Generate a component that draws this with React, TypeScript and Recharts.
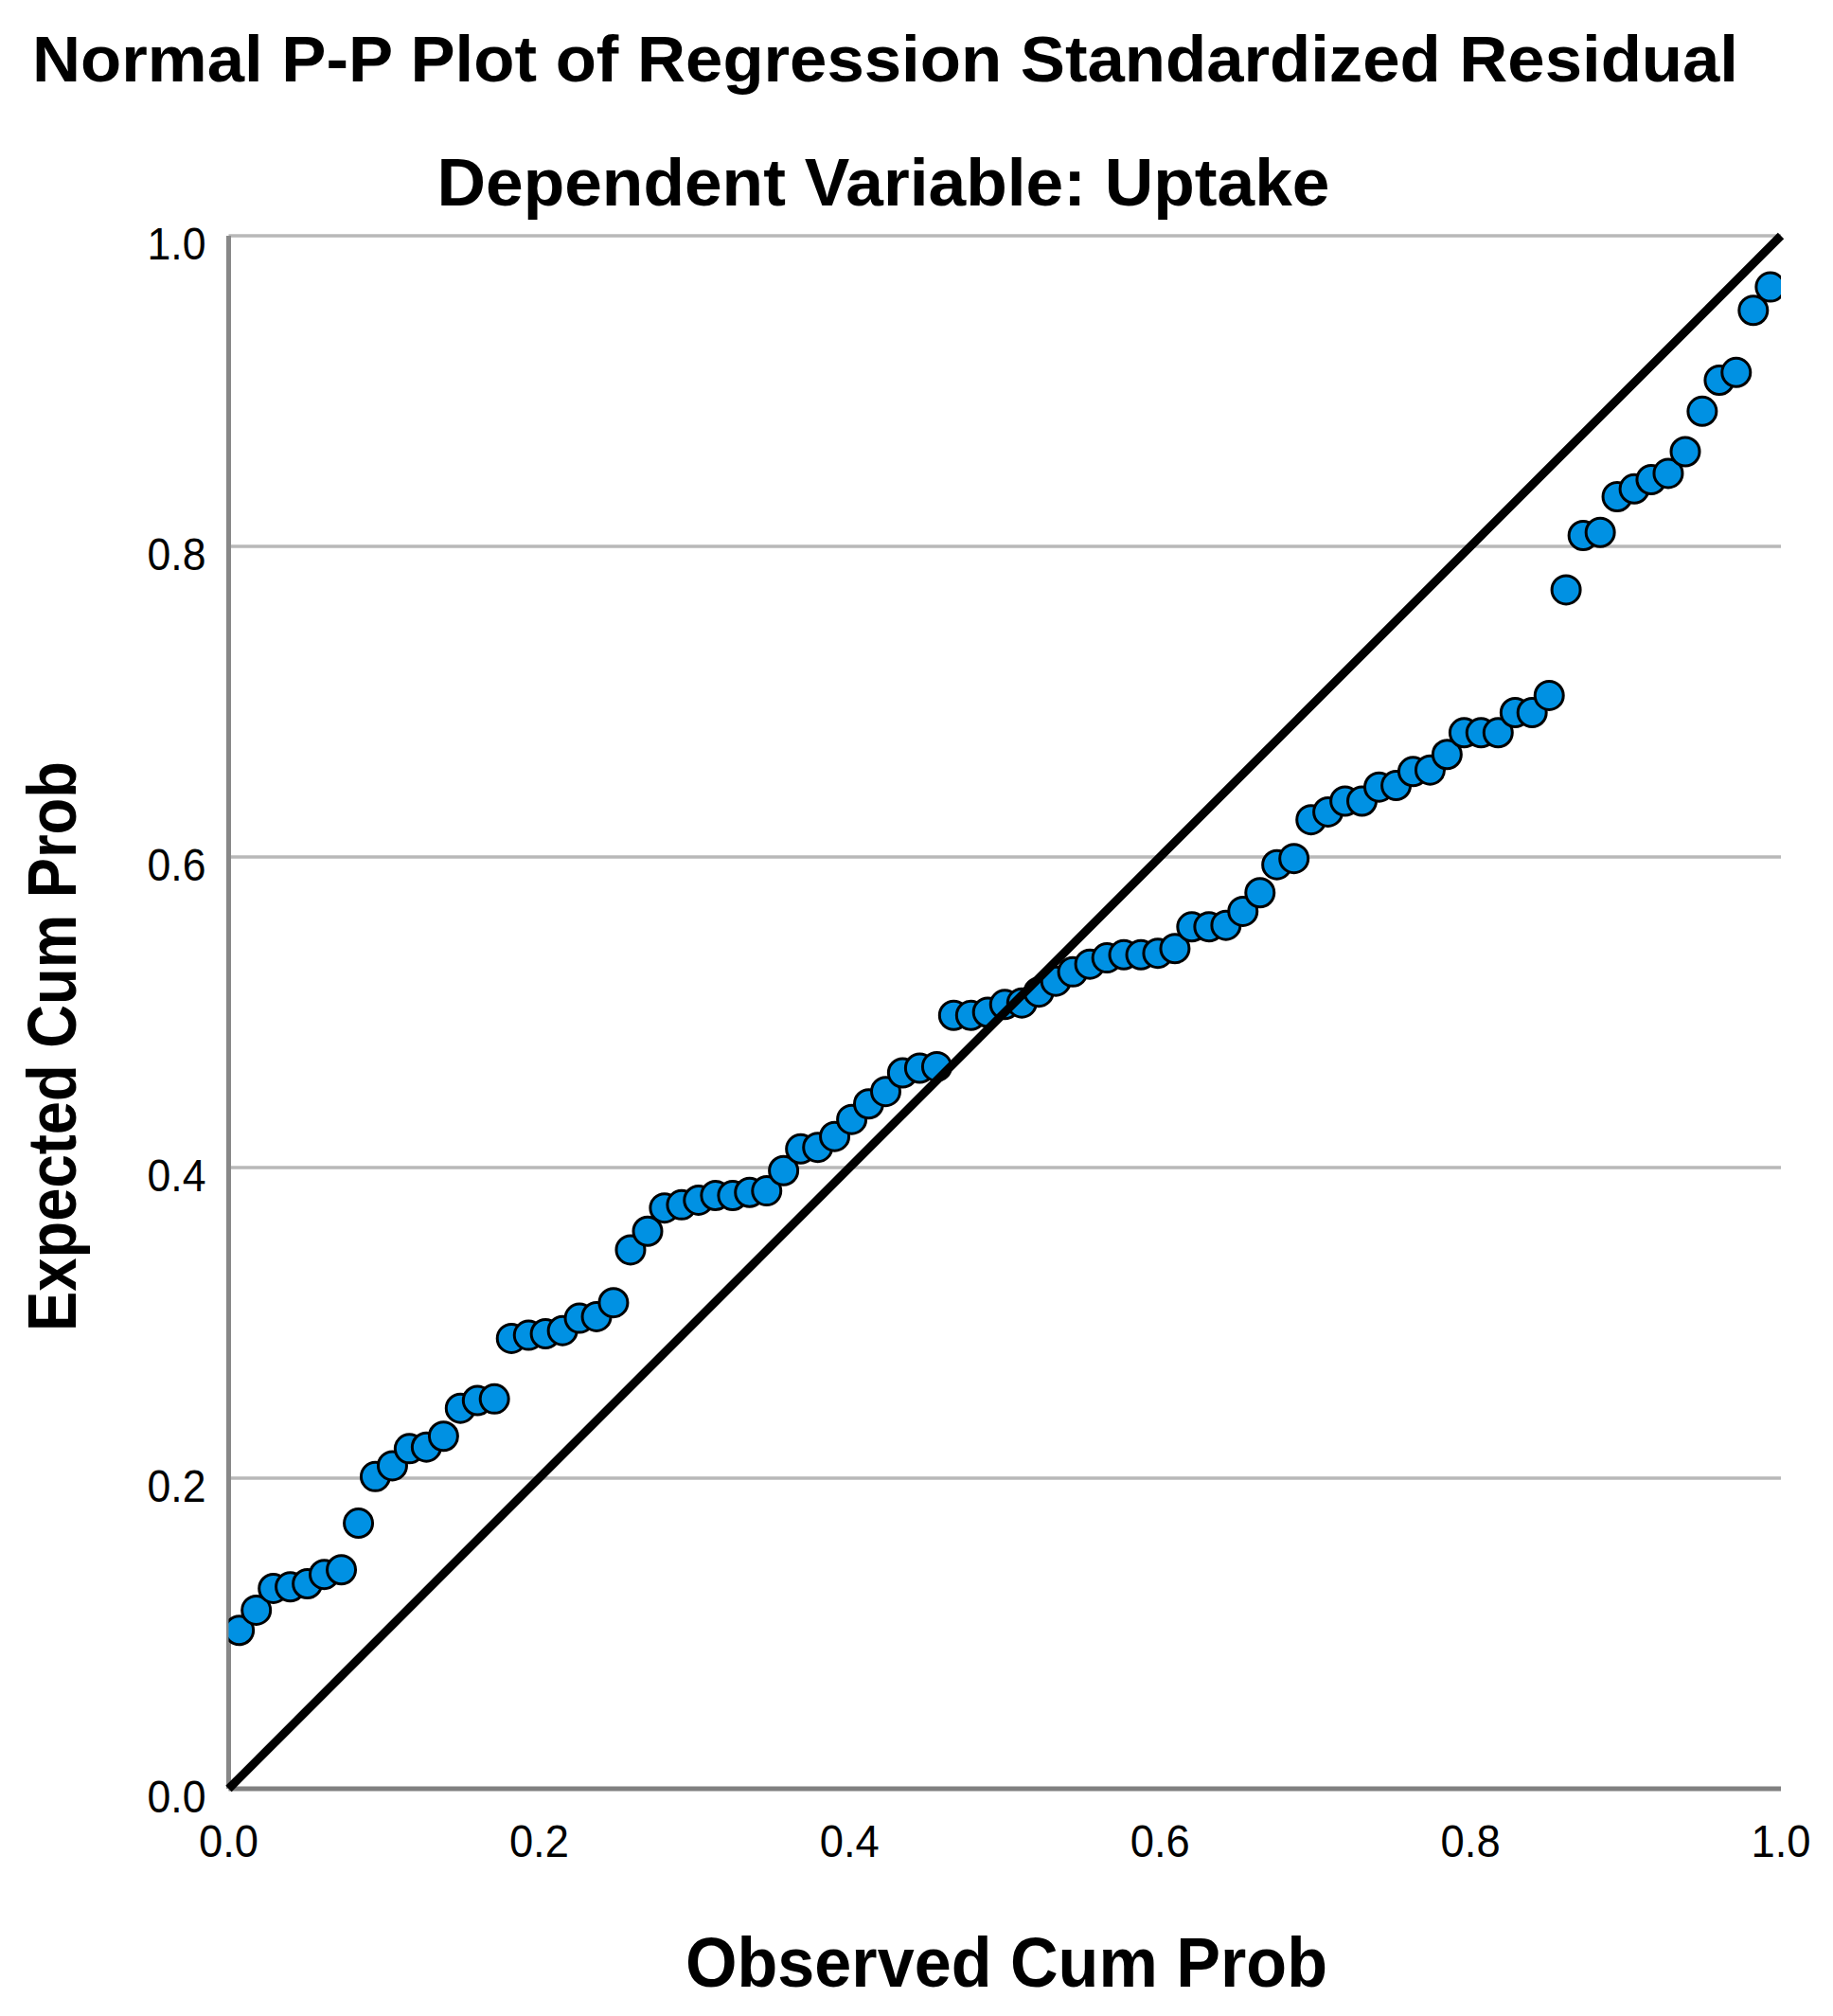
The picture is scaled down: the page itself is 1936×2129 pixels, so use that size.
import React from "react";
import {
  ScatterChart,
  Scatter,
  XAxis,
  YAxis,
  CartesianGrid,
  ReferenceLine,
  Customized,
} from "recharts";

const chartTitle = "Normal P-P Plot of Regression Standardized Residual";
const chartSubtitle = "Dependent Variable: Uptake";
const xAxisTitle = "Observed Cum Prob";
const yAxisTitle = "Expected Cum Prob";

const axisTicks = [0, 0.2, 0.4, 0.6, 0.8, 1.0];

const observedCumProb = [
  0.0068, 0.0178, 0.0288, 0.0397, 0.0507, 0.0616, 0.0726, 0.0836, 0.0945, 0.1055,
  0.1164, 0.1274, 0.1384, 0.1493, 0.1603, 0.1712, 0.1822, 0.1932, 0.2041, 0.2151,
  0.226, 0.237, 0.2479, 0.2589, 0.2699, 0.2808, 0.2918, 0.3027, 0.3137, 0.3247,
  0.3356, 0.3466, 0.3575, 0.3685, 0.3795, 0.3904, 0.4014, 0.4123, 0.4233, 0.4342,
  0.4452, 0.4562, 0.4671, 0.4781, 0.489, 0.5, 0.511, 0.5219, 0.5329, 0.5438,
  0.5548, 0.5658, 0.5767, 0.5877, 0.5986, 0.6096, 0.6205, 0.6315, 0.6425, 0.6534,
  0.6644, 0.6753, 0.6863, 0.6973, 0.7082, 0.7192, 0.7301, 0.7411, 0.7521, 0.763,
  0.774, 0.7849, 0.7959, 0.8068, 0.8178, 0.8288, 0.8397, 0.8507, 0.8616, 0.8726,
  0.8836, 0.8945, 0.9055, 0.9164, 0.9274, 0.9384, 0.9493, 0.9603, 0.9712, 0.9822,
  0.9932,
];

const expectedCumProb = [
  0.102, 0.115, 0.129, 0.13, 0.132, 0.138, 0.141, 0.171, 0.201, 0.208,
  0.219, 0.22, 0.227, 0.245, 0.25, 0.251, 0.29, 0.292, 0.293, 0.295,
  0.303, 0.304, 0.313, 0.347, 0.359, 0.374, 0.376, 0.379, 0.382, 0.382,
  0.384, 0.385, 0.398, 0.412, 0.413, 0.42, 0.431, 0.441, 0.449, 0.461,
  0.464, 0.465, 0.498, 0.498, 0.5, 0.505, 0.506, 0.513, 0.52, 0.526,
  0.531, 0.535, 0.537, 0.537, 0.538, 0.541, 0.555, 0.555, 0.556, 0.565,
  0.577, 0.595, 0.599, 0.624, 0.629, 0.636, 0.636, 0.645, 0.646, 0.655,
  0.656, 0.666, 0.68, 0.68, 0.68, 0.693, 0.693, 0.704, 0.772, 0.807,
  0.809, 0.832, 0.837, 0.843, 0.847, 0.861, 0.887, 0.907, 0.912, 0.952,
  0.967,
];

const data = observedCumProb.map((x, i) => ({ x, y: expectedCumProb[i] }));

const FONT = "'Liberation Sans', Arial, Helvetica, sans-serif";

const XTick = (props: any) => {
  const { x, y, payload } = props;
  return (
    <text
      x={x}
      y={y + 72}
      textAnchor="middle"
      fontFamily={FONT}
      fontSize={48}
      fill="#000"
      textLength={63}
      lengthAdjust="spacingAndGlyphs"
    >
      {Number(payload.value).toFixed(1)}
    </text>
  );
};

const YTick = (props: any) => {
  const { x, y, payload } = props;
  return (
    <text
      x={x}
      y={y + 25}
      textAnchor="end"
      fontFamily={FONT}
      fontSize={48}
      fill="#000"
      textLength={62}
      lengthAdjust="spacingAndGlyphs"
    >
      {Number(payload.value).toFixed(1)}
    </text>
  );
};

const Dot = (props: any) => {
  const { cx, cy } = props;
  return <circle cx={cx} cy={cy} r={15} fill="#0091E3" stroke="#000" strokeWidth={3} />;
};

const Titles = () => (
  <g fontFamily={FONT} fontWeight="bold" fill="#000">
    <text x={927} y={78} textAnchor="middle" fontSize={68} textLength={1802} lengthAdjust="spacingAndGlyphs">
      {chartTitle}
    </text>
    <text x={925} y={209} textAnchor="middle" fontSize={70} textLength={943} lengthAdjust="spacingAndGlyphs">
      {chartSubtitle}
    </text>
    <text x={1055} y={2090} textAnchor="middle" fontSize={74} textLength={678} lengthAdjust="spacingAndGlyphs">
      {xAxisTitle}
    </text>
    <text
      x={0}
      y={0}
      transform="translate(72,1097) rotate(-90)"
      textAnchor="middle"
      fontSize={72}
      textLength={602}
      lengthAdjust="spacingAndGlyphs"
    >
      {yAxisTitle}
    </text>
  </g>
);

export default function App() {
  return (
    <div style={{ width: 1920, height: 2113, background: "#fff" }}>
      <ScatterChart
        width={1920}
        height={2113}
        margin={{ top: 241, right: 47, bottom: 0, left: 0 }}
      >
        <CartesianGrid vertical={false} stroke="#b8b8b8" strokeWidth={3.5} />
        <XAxis
          type="number"
          dataKey="x"
          domain={[0, 1]}
          ticks={axisTicks}
          height={232}
          tickSize={0}
          tickMargin={0}
          tickLine={false}
          axisLine={{ stroke: "#808080", strokeWidth: 5 }}
          tick={<XTick />}
          allowDataOverflow
        />
        <YAxis
          type="number"
          dataKey="y"
          domain={[0, 1]}
          ticks={axisTicks}
          width={233.5}
          tickSize={0}
          tickMargin={24}
          tickLine={false}
          axisLine={{ stroke: "#888888", strokeWidth: 5 }}
          tick={<YTick />}
          allowDataOverflow
        />
        <Scatter data={data} shape={<Dot />} isAnimationActive={false} />
        <ReferenceLine
          segment={[
            { x: 0, y: 0 },
            { x: 1, y: 1 },
          ]}
          stroke="#000"
          strokeWidth={9}
          ifOverflow="visible"
          zIndex={1000}
        />
        <Customized component={Titles} />
      </ScatterChart>
    </div>
  );
}
